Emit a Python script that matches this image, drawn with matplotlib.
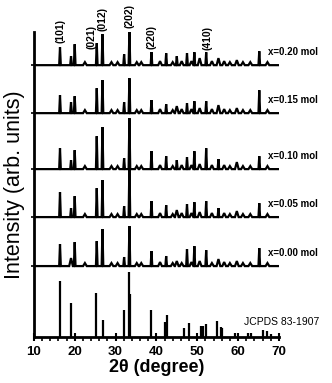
import matplotlib
matplotlib.use('Agg')
import matplotlib.pyplot as plt
import numpy as np

plt.rcParams['font.family'] = ['Liberation Sans', 'DejaVu Sans']

# sample labels and vertical offsets of each trace (arb. units)
samples = ['x=0.00 mol', 'x=0.05 mol', 'x=0.10 mol', 'x=0.15 mol', 'x=0.20 mol']
offsets = [71, 120, 168, 224, 272]

# peak positions (2theta) shared by the measured traces
peak_pos = [16.4, 19.1, 20.0, 22.5, 25.4, 26.8, 29.0, 30.5, 32.1, 33.4, 35.2, 36.3,
            38.8, 40.9, 42.4, 44.0, 45.0, 46.2, 47.5, 48.6, 49.3, 50.6, 52.2,
            53.6, 55.2, 56.6, 58.0, 59.7, 61.2, 63.0, 65.2, 67.2]

# peak heights for each sample, same order as samples
peak_h = {
    'x=0.00 mol': [22, 8, 24, 3, 25, 37, 3, 3, 9, 40, 3, 3,
                   15, 4, 10, 3, 5, 3, 17, 4, 20, 5, 16,
                   3, 7, 4, 3, 5, 3, 3, 18, 3],
    'x=0.05 mol': [25, 9, 21, 3, 29, 37, 3, 3, 11, 52, 3, 3,
                   16, 4, 12, 3, 7, 4, 13, 4, 15, 5, 16,
                   4, 9, 4, 3, 6, 3, 3, 14, 3],
    'x=0.10 mol': [21, 9, 19, 3, 33, 42, 3, 3, 11, 51, 3, 3,
                   18, 4, 13, 3, 9, 4, 12, 4, 18, 5, 21,
                   4, 10, 4, 3, 7, 3, 3, 13, 3],
    'x=0.15 mol': [18, 11, 17, 3, 25, 33, 3, 3, 11, 35, 3, 3,
                   13, 4, 9, 3, 7, 4, 10, 4, 12, 5, 12,
                   4, 8, 4, 3, 5, 3, 3, 23, 3],
    'x=0.20 mol': [18, 9, 21, 3, 22, 31, 3, 3, 11, 34, 3, 3,
                   13, 4, 12, 3, 9, 4, 12, 4, 13, 7, 13,
                   4, 7, 4, 3, 5, 3, 3, 14, 3],
}

# reference pattern JCPDS 83-1907
ref_pos = [16.45, 19.1, 25.3, 27.0, 32.0, 33.2, 33.5, 38.7, 42.0, 42.5, 46.8, 48.0,
           50.9, 51.3, 52.2, 54.9, 55.8, 56.1, 59.3, 62.5, 63.1, 66.2, 67.0, 68.0]
ref_h = [56, 34, 44, 17, 27, 65, 43, 27, 15, 22, 9, 14,
         11, 11, 13, 16, 10, 9, 4, 4, 4, 7, 6, 3]

# Miller indices
hkl = ['(101)', '(021)', '(012)', '(202)', '(220)', '(410)']
hkl_pos = [16.5, 24.0, 26.7, 33.4, 38.7, 52.4]
hkl_y = [294, 288, 306, 309, 288, 287]


def trace(pos, heights, base):
    xs = [10.0]
    ys = [base]
    for p, h in zip(pos, heights):
        w = 0.2 if h > 8 else 0.45
        xs += [p - w, p, p + w]
        ys += [base, base + h, base]
    xs.append(70.0)
    ys.append(base)
    return xs, ys


fig = plt.figure(figsize=(3.32, 3.83), dpi=100)
ax = fig.add_axes([0.102, 0.12, 0.738, 0.796])

for name, off in zip(samples, offsets):
    xs, ys = trace(peak_pos, peak_h[name], off)
    ax.plot(xs, ys, color='black', linewidth=1.6, solid_joinstyle='miter')
    ax.text(67.4, off + 13, name, fontsize=7, fontweight='bold', ha='left', va='center',
            clip_on=False)

ax.vlines(ref_pos, 0, ref_h, color='black', linewidth=1.6)
ax.text(61.5, 15, 'JCPDS 83-1907', fontsize=7.5, ha='left', va='center', clip_on=False)

for lab, p, y in zip(hkl, hkl_pos, hkl_y):
    ax.text(p, y, lab, rotation=90, fontsize=7.5, fontweight='bold', ha='center', va='bottom',
            clip_on=False)

ax.set_xlim(10, 70)
ax.set_ylim(0, 305)
ax.spines['top'].set_visible(False)
ax.spines['right'].set_visible(False)
ax.spines['left'].set_linewidth(2)
ax.spines['bottom'].set_linewidth(2)

ax.set_xticks(np.arange(10, 71, 10))
ax.set_xticks(np.arange(10, 71, 2), minor=True)
ax.set_yticks(offsets)
ax.set_yticklabels([])
ax.tick_params(axis='x', which='major', direction='inout', length=6, width=1.5, labelsize=9.5)
ax.tick_params(axis='x', which='minor', direction='out', length=3, width=1.2)
ax.tick_params(axis='y', direction='inout', length=4, width=1.2)
for t in ax.get_xticklabels():
    t.set_fontweight('bold')

ax.set_xlabel('2θ (degree)', fontsize=13, fontweight='bold', labelpad=1)
ax.set_ylabel('Intensity (arb. units)', fontsize=15.5, labelpad=1)

fig.savefig('out.png', dpi=100)
